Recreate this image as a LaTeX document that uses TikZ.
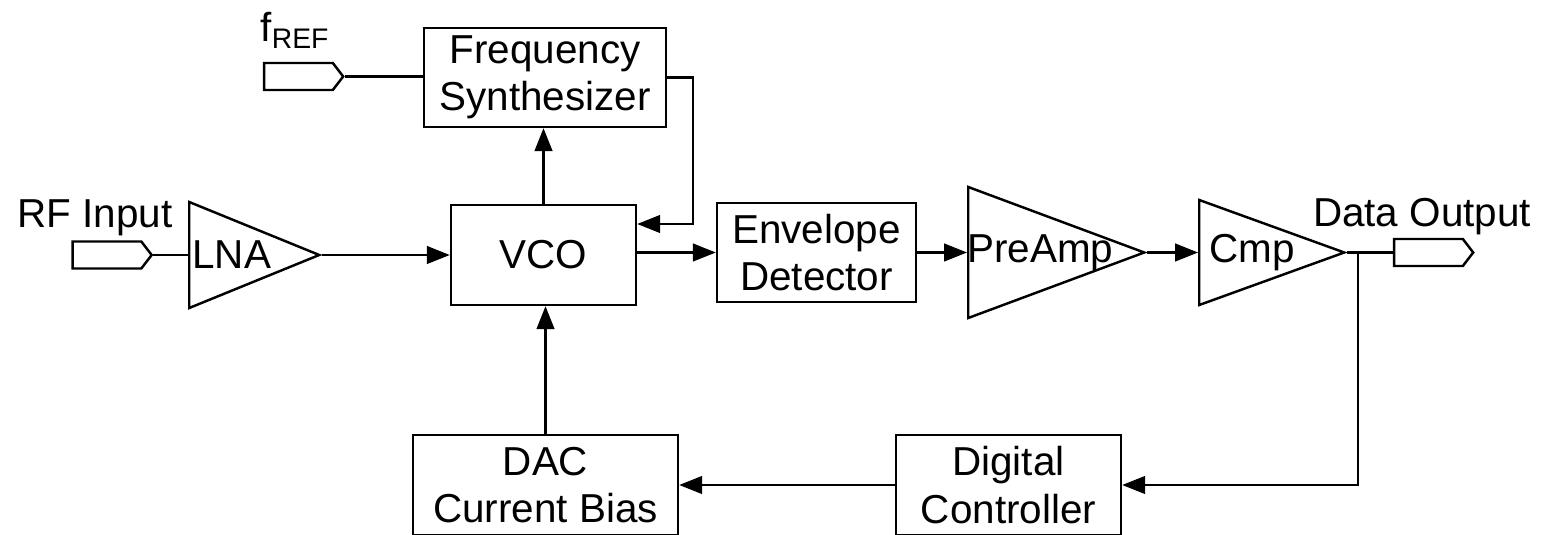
\documentclass[tikz,border=0pt]{standalone}
\usepackage{fontspec}
\setmainfont{Liberation Sans}
\usetikzlibrary{shapes.geometric,shapes.symbols,positioning,calc,arrows.meta}

\begin{document}
\begin{tikzpicture}[
    every node/.style={font=\fontsize{23}{27}\selectfont},
    block/.style={draw, line width=1.4pt, align=center, inner sep=0pt},
    amp/.style={draw, line width=1.4pt, isosceles triangle, isosceles triangle stretches, inner sep=0pt, anchor=lower side},
    port/.style={draw, line width=1.4pt, signal, signal to=east, signal pointer angle=105, inner sep=0pt, minimum width=1.58cm, minimum height=0.54cm},
    sig/.style={line width=1.4pt, -{Triangle[length=13pt,width=10pt]}},
    wire/.style={line width=1.4pt}
]
    \useasboundingbox (0,0) rectangle (31.1,10.68);

    % Blocks
    \node[block, minimum width=4.84cm, minimum height=1.98cm] (synth) at (10.90,9.13) {Frequency\\Synthesizer};
    \node[block, minimum width=3.70cm, minimum height=2.00cm] (vco) at (10.87,5.58) {VCO};
    \node[block, minimum width=3.98cm, minimum height=1.98cm] (env) at (16.33,5.63) {Envelope\\Detector};
    \node[block, minimum width=5.30cm, minimum height=2.00cm] (dac) at (10.91,0.98) {DAC\\Current Bias};
    \node[block, minimum width=4.50cm, minimum height=2.00cm] (dig) at (20.17,0.98) {Digital\\Controller};

    % Amplifiers (minimum width is the base, minimum height the length)
    \node[amp, minimum height=2.60cm, minimum width=2.12cm] (lna) at (3.76,5.58) {};
    \node[amp, minimum height=3.52cm, minimum width=2.62cm] (preamp) at (19.34,5.63) {};
    \node[amp, minimum height=2.90cm, minimum width=2.10cm] (cmp) at (23.96,5.63) {};
    \node[inner sep=0pt, right=0.08cm of lna.lower side] (lnatext) {LNA};
    \node[inner sep=0pt, right=0cm of preamp.lower side] (preamptext) {PreAmp};
    \node[inner sep=0pt, right=0.22cm of cmp.lower side] (cmptext) {Cmp};

    % Ports and their labels
    \node[port] (fref) at (5.97,9.15) {};
    \node[port] (rfin) at (2.14,5.58) {};
    \node[port] (dout) at (28.57,5.63) {};
    \node[anchor=base, inner sep=0pt] (freflabel) at (5.90,9.84) {f\textsubscript{REF}};
    \node[anchor=base, inner sep=0pt] (rflabel) at (1.90,6.12) {RF Input};
    \node[anchor=base, inner sep=0pt] (doutlabel) at (28.44,6.14) {Data Output};

    % Signal path
    \draw[wire] (fref.east) -- (fref.east -| synth.west);
    \draw[wire] (rfin.east) -- (lna.lower side);
    \draw[sig] (lna.apex) -- (vco.west |- lna.apex);
    \draw[sig] (vco.north) -- (vco.north |- synth.south);
    \coordinate (fbk) at (13.86,6.20);
    \draw[sig] (synth.east) -| (fbk) -- (fbk -| vco.east);
    \draw[sig] (vco.east |- env.west) -- (env.west);
    \draw[sig] (env.east) -- (preamp.lower side);
    \draw[sig] (preamp.apex) -- (cmp.lower side);
    \draw[wire] (cmp.apex) -- (dout.west);

    % Feedback loop
    \coordinate (jn) at (27.16,5.63);
    \draw[sig] (jn) |- (dig.east);
    \draw[sig] (dig.west) -- (dac.east);
    \draw[sig] (dac.north) -- (dac.north |- vco.south);
\end{tikzpicture}
\end{document}
